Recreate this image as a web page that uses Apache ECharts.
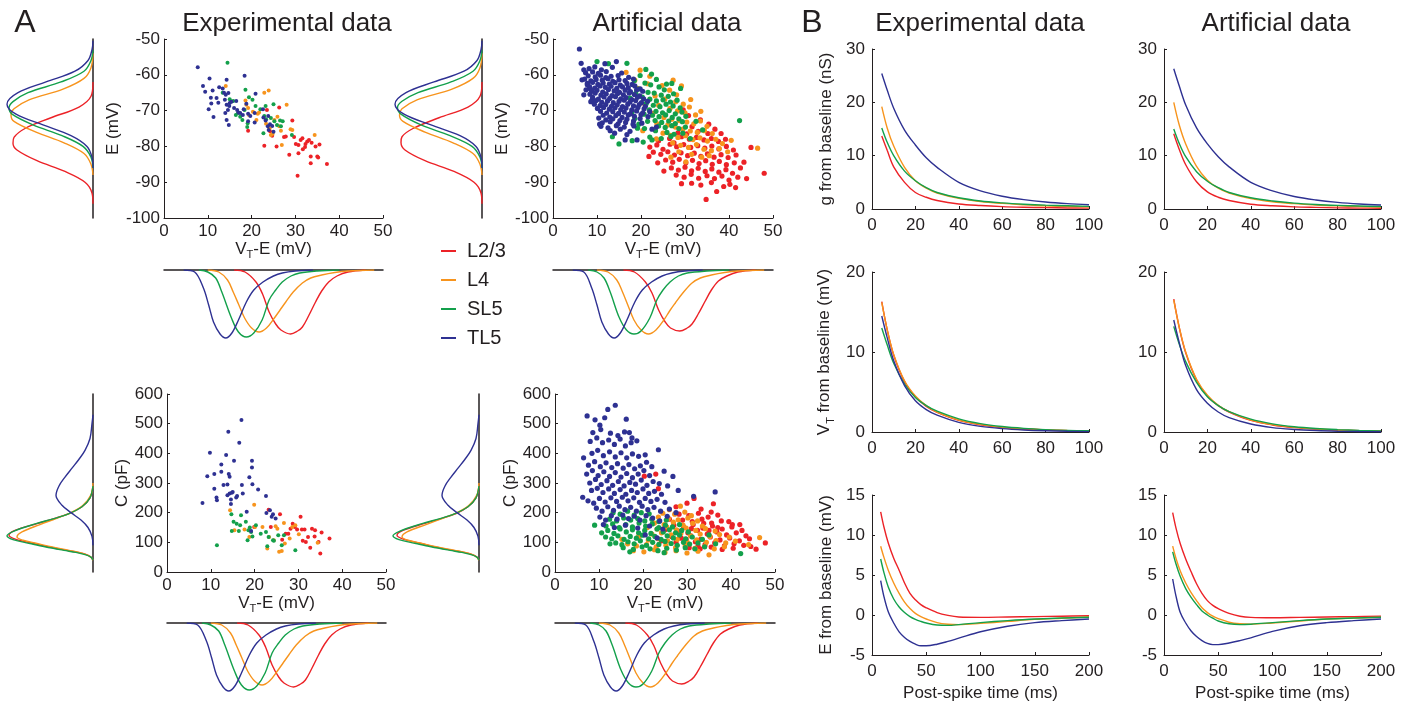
<!DOCTYPE html>
<html>
<head>
<meta charset="utf-8">
<script src="https://cdn.jsdelivr.net/npm/echarts@6/dist/echarts.min.js"></script>
<style>
  html, body { margin: 0; padding: 0; background: #fff; }
  #chart { width: 1408px; height: 708px; }
</style>
</head>
<body>
<div id="chart"></div>
<script>
// cell types, in drawing order (last one on top)
var layers = ['L2/3', 'L4', 'SL5', 'TL5'];
var layerColors = ['#ec2227', '#f7941d', '#13a04b', '#2e3192'];

// ---- A, scatter: [VT-E (mV), E (mV)], experimental ----
var expEPoints = [
  [[19.2,-75.6],[22.9,-79.8],[23.5,-69.8],[24.7,-77.0],[24.2,-75.8],[26.3,-69.1],[25.7,-80.0],[27.4,-77.4],[27.8,-77.2],[28.6,-82.3],[29.3,-72.8],[29.7,-77.4],[30.5,-88.2],[30.1,-79.3],[30.7,-79.6],[31.2,-78.2],[31.6,-77.7],[31.7,-80.8],[32.2,-80.2],[32.3,-79.3],[32.7,-78.6],[33.1,-78.2],[33.5,-82.8],[33.5,-84.7],[33.7,-79.0],[34.6,-80.0],[35.0,-82.8],[35.2,-83.1],[30.7,-81.9],[37.2,-84.9],[35.5,-79.5]],
  [[14.1,-63.1],[18.6,-67.2],[18.8,-68.4],[19.2,-69.3],[19.4,-71.2],[20.3,-70.3],[21.1,-72.6],[21.4,-70.9],[21.7,-70.5],[22.9,-65.0],[23.9,-64.4],[23.3,-73.7],[24.1,-74.9],[24.4,-76.8],[24.8,-76.5],[25.9,-71.7],[26.3,-74.4],[26.7,-75.6],[26.9,-79.6],[28.0,-68.4],[28.9,-75.2],[29.3,-75.4],[34.4,-76.8],[25.2,-72.6]],
  [[14.5,-56.6],[13.4,-65.0],[15.0,-66.8],[15.8,-67.3],[16.4,-71.2],[16.9,-70.7],[17.4,-71.7],[18.4,-69.8],[18.6,-64.2],[19.4,-66.3],[19.0,-74.6],[19.1,-73.5],[20.2,-67.0],[20.9,-68.7],[22.0,-69.6],[22.9,-71.5],[23.2,-68.7],[23.3,-72.4],[24.4,-72.1],[25.0,-68.2],[25.2,-73.0],[25.8,-74.0],[26.5,-72.8],[26.7,-74.4],[27.1,-73.0],[29.2,-76.8],[22.7,-76.3],[17.9,-72.6]],
  [[7.7,-57.9],[8.9,-63.1],[9.4,-64.7],[10.4,-61.0],[11.1,-64.4],[10.7,-66.4],[10.2,-69.6],[10.8,-68.0],[11.3,-71.8],[12.0,-66.5],[12.4,-67.8],[12.6,-63.5],[13.4,-63.8],[13.7,-65.0],[14.3,-61.4],[14.1,-65.6],[14.7,-65.1],[13.9,-67.0],[14.3,-68.4],[14.0,-70.7],[14.9,-68.7],[14.6,-69.8],[15.0,-67.9],[15.4,-67.5],[14.3,-72.6],[14.8,-74.0],[16.0,-69.3],[16.5,-67.3],[16.7,-69.8],[17.0,-70.5],[17.4,-70.7],[18.2,-69.6],[18.0,-71.2],[18.4,-60.3],[18.8,-68.1],[19.2,-70.9],[19.2,-73.0],[19.7,-71.5],[20.7,-73.3],[20.9,-65.3],[22.6,-69.6],[22.7,-71.9],[23.2,-72.8],[23.7,-74.4],[23.9,-75.4],[24.2,-73.8],[24.7,-74.3],[25.0,-75.9],[23.8,-71.5],[20.7,-70.7]]
];

// ---- A, scatter: [VT-E (mV), E (mV)], artificial ----
var artEPoints = [
  [[29.6,-69.8],[30.8,-71.4],[33.5,-72.6],[35.4,-73.8],[31.6,-74.5],[36.8,-75.2],[38.2,-76.4],[33.0,-75.8],[28.4,-76.2],
   [26.5,-77.8],[29.2,-77.3],[31.0,-78.0],[32.6,-77.5],[34.3,-78.2],[36.0,-77.8],[37.6,-78.6],[39.2,-78.0],
   [22.0,-80.2],[23.6,-79.6],[25.0,-80.8],[26.6,-79.4],[28.1,-80.1],[29.7,-79.5],[31.3,-80.3],[32.9,-79.8],[34.5,-80.5],[36.1,-79.9],[37.7,-80.7],[39.4,-80.0],[41.0,-81.0],
   [22.8,-81.6],[24.5,-82.2],[26.1,-81.5],[27.6,-82.4],[29.1,-81.8],[30.6,-82.6],[32.1,-81.9],[33.6,-82.8],[35.1,-82.1],[36.6,-83.0],[38.2,-82.3],[39.8,-83.1],[41.6,-82.4],
   [25.6,-83.8],[27.2,-84.4],[28.7,-83.6],[30.2,-84.6],[31.7,-83.9],[33.2,-84.8],[34.7,-84.0],[36.2,-85.0],[37.8,-84.2],[39.4,-85.1],[41.2,-84.6],
   [26.9,-86.0],[28.5,-86.6],[30.0,-85.8],[31.5,-86.8],[33.0,-86.1],[34.6,-87.0],[36.1,-86.3],[37.7,-87.2],[39.3,-86.5],[40.8,-87.5],
   [28.0,-88.0],[29.8,-88.6],[31.4,-87.8],[33.1,-88.9],[35.0,-88.2],[36.7,-89.0],[38.4,-88.3],[40.0,-89.4],
   [31.5,-90.3],[33.6,-90.8],[36.0,-90.1],[38.8,-91.2],[40.2,-90.6],[41.5,-91.5],[44.0,-89.0],[45.0,-80.3],[48.0,-87.5],[34.8,-94.8],[42.6,-86.0],[43.4,-84.4],
   [24.0,-78.4],[27.5,-79.0],[30.4,-76.5],[35.2,-76.4],[21.8,-82.8],[23.8,-84.6],[25.2,-86.9],[29.2,-90.4],[37.2,-92.6],[42.0,-88.6]],
  [[16.6,-59.3],[19.8,-58.7],[22.0,-60.4],[27.3,-61.5],[21.5,-62.5],[24.8,-63.0],[26.5,-64.3],[28.1,-65.6],[23.2,-65.9],
   [25.4,-66.8],[27.9,-67.5],[29.6,-68.2],[31.0,-69.0],[26.6,-69.4],[28.3,-70.1],[30.0,-70.6],[32.4,-71.2],[33.6,-70.2],
   [25.2,-71.9],[27.0,-72.4],[28.7,-72.8],[30.4,-73.2],[32.0,-73.7],[33.5,-72.9],[35.0,-74.4],[26.1,-74.0],[27.8,-74.6],[29.5,-75.2],[31.2,-75.7],[32.8,-76.1],[34.4,-75.6],[36.2,-76.4],
   [25.0,-76.3],[26.7,-76.9],[28.4,-77.5],[30.1,-77.0],[31.8,-78.1],[33.4,-77.6],[35.1,-78.5],[37.0,-78.0],[38.5,-79.2],
   [27.2,-79.0],[29.0,-79.7],[30.8,-80.3],[32.6,-79.5],[34.3,-80.8],[36.0,-81.2],[37.8,-80.6],[39.7,-81.5],
   [28.6,-81.5],[31.5,-82.2],[33.8,-83.0],[35.5,-82.6],[30.2,-84.3],[26.8,-83.0],
   [46.5,-80.5],[40.5,-78.3],[24.0,-68.5],[22.7,-70.8],[23.6,-73.6],[20.9,-68.3],[19.2,-63.8],[18.6,-61.5],[29.2,-63.1],[31.3,-66.9],[20.4,-75.6],[23.5,-77.9]],
  [[10.0,-56.3],[12.6,-56.9],[16.8,-56.8],[21.1,-58.5],[19.8,-60.2],[22.4,-59.8],[23.5,-61.3],[25.8,-62.6],[29.0,-63.8],[27.0,-62.4],
   [18.5,-61.6],[20.9,-62.3],[22.2,-62.8],[24.1,-63.4],[25.3,-64.2],[21.6,-64.9],[23.0,-65.1],[24.6,-65.7],[26.2,-66.0],[27.4,-65.3],
   [20.3,-66.2],[22.0,-66.8],[23.5,-67.3],[25.0,-67.0],[26.7,-67.6],[28.2,-67.1],[21.2,-68.0],[22.8,-68.5],[24.3,-68.9],[25.7,-68.2],[27.3,-68.7],[28.9,-69.2],
   [21.9,-69.8],[23.4,-70.2],[24.9,-70.6],[26.4,-70.0],[27.8,-70.9],[29.3,-70.4],[22.6,-71.3],[24.1,-71.7],[25.6,-71.2],[27.1,-71.9],[28.6,-72.3],[30.2,-71.6],
   [23.2,-72.8],[24.7,-73.3],[26.3,-72.9],[27.8,-73.6],[29.4,-73.1],[24.0,-74.3],[25.5,-74.7],[27.0,-74.2],[28.6,-75.0],[30.1,-74.6],
   [23.3,-75.6],[25.9,-76.1],[27.5,-76.6],[29.5,-76.3],[22.0,-77.4],[24.6,-77.8],[26.8,-77.2],[15.0,-79.3],[13.5,-77.3],[18.0,-78.4],[20.5,-78.8],[22.5,-78.2],
   [42.4,-72.8],[34.0,-75.4],[32.5,-73.0],[31.2,-77.8],
   [17.5,-66.5],[18.8,-65.2],[19.4,-64.0],[17.9,-70.5],[18.6,-72.2],[19.5,-73.8],[20.8,-75.0],[21.5,-73.0],[20.7,-71.0],[19.2,-74.9]],
  [[6.0,-52.8],[6.4,-56.8],[7.0,-58.6],[6.6,-61.4],[7.0,-65.6],[7.8,-62.8],[8.5,-64.0],[8.9,-67.0],
   [8.2,-58.3],[9.5,-57.8],[11.0,-58.6],[13.5,-57.9],[14.4,-56.3],
   [7.4,-59.4],[9.0,-59.2],[10.3,-59.6],[12.1,-59.1],[15.6,-59.5],
   [8.0,-60.3],[9.6,-60.6],[10.8,-60.1],[12.0,-60.8],[13.2,-60.4],[14.8,-60.2],[17.2,-60.7],
   [7.2,-61.2],[8.6,-61.7],[9.8,-61.3],[11.2,-61.5],[12.5,-61.1],[13.6,-61.8],[15.0,-61.4],[16.4,-61.6],[18.3,-61.2],
   [7.8,-62.4],[9.0,-62.1],[10.2,-62.7],[11.4,-62.3],[12.8,-62.6],[14.1,-62.2],[15.3,-62.9],[16.8,-62.4],[18.0,-62.7],
   [8.3,-63.3],[9.5,-63.7],[10.7,-63.1],[11.9,-63.5],[13.2,-63.2],[14.5,-63.8],[15.8,-63.4],[17.1,-63.6],[18.6,-63.1],[19.8,-63.9],
   [7.5,-64.2],[8.8,-64.6],[10.0,-64.3],[11.3,-64.8],[12.6,-64.1],[13.9,-64.5],[15.1,-64.9],[16.4,-64.3],[17.6,-64.7],[19.0,-64.2],[20.4,-64.6],
   [8.4,-65.4],[9.6,-65.1],[10.9,-65.7],[12.1,-65.3],[13.4,-65.8],[14.7,-65.2],[16.0,-65.6],[17.3,-65.1],[18.5,-65.5],[19.7,-65.9],
   [9.0,-66.3],[10.3,-66.8],[11.6,-66.2],[12.9,-66.6],[14.2,-66.1],[15.4,-66.7],[16.6,-66.4],[17.9,-66.9],[19.2,-66.3],[20.6,-66.7],
   [8.6,-67.5],[9.8,-67.2],[11.1,-67.7],[12.4,-67.3],[13.7,-67.8],[15.0,-67.4],[16.2,-67.1],[17.5,-67.6],[18.8,-67.2],[20.1,-67.8],[21.5,-67.4],
   [9.4,-68.2],[10.7,-68.6],[12.0,-68.3],[13.3,-68.8],[14.6,-68.4],[15.8,-68.9],[17.0,-68.2],[18.3,-68.7],[19.6,-68.3],[21.0,-68.8],
   [10.1,-69.4],[11.5,-69.1],[12.8,-69.6],[14.1,-69.2],[15.4,-69.7],[16.6,-69.3],[17.9,-69.8],[19.3,-69.1],[20.7,-69.5],
   [10.8,-70.2],[12.2,-70.7],[13.6,-70.3],[14.9,-70.8],[16.2,-70.4],[17.6,-70.9],[19.0,-70.1],[20.4,-70.6],[22.0,-70.3],
   [11.4,-71.3],[12.9,-71.8],[14.3,-71.4],[15.7,-71.9],[17.1,-71.2],[18.5,-71.6],[20.0,-71.1],[21.6,-71.7],
   [10.4,-72.1],[12.0,-72.6],[13.6,-72.3],[15.2,-72.8],[16.8,-72.4],[18.3,-72.9],[19.8,-72.2],
   [11.2,-73.4],[13.0,-73.1],[14.8,-73.7],[16.5,-73.3],[18.2,-73.8],[20.2,-73.5],
   [10.9,-74.4],[12.5,-74.8],[14.4,-74.2],[16.2,-74.6],[18.4,-74.3],
   [13.0,-75.6],[15.3,-75.2],[17.5,-75.8],[14.0,-76.3],[16.8,-76.7],[16.4,-78.2],[19.1,-78.2],[22.5,-75.2],[23.5,-74.6],[11.8,-56.9],[10.6,-73.8]]
];

// ---- A, scatter: [VT-E (mV), C (pF)], experimental ----
var expCPoints = [
  [[19.9,152],[23.2,210],[23.7,152],[25.8,195],[26.3,109],[27.1,129],[27.7,129],[28.2,146],[28.7,163],[29.2,152],[29.7,143],[30.5,186],[30.8,143],[31.0,105],[31.4,143],[31.7,101],[32.2,118],[32.7,82],[33.1,146],[33.7,120],[33.8,141],[35.0,62],[35.3,133],[37.1,113],[34.6,101]],
  [[14.4,208],[15.4,141],[17.7,143],[18.8,118],[19.9,227],[20.1,152],[21.8,152],[22.9,79],[23.3,118],[24.4,107],[24.8,154],[25.2,146],[25.6,68],[26.2,71],[26.7,165],[26.9,96],[28.0,113],[28.6,152],[30.1,127],[34.4,99],[29.3,158]],
  [[11.4,90],[14.7,195],[14.8,138],[15.2,169],[15.9,163],[16.4,138],[16.7,158],[16.9,191],[18.0,169],[18.4,107],[18.6,141],[18.9,150],[19.2,135],[19.5,120],[21.4,129],[22.6,135],[22.9,87],[23.2,118],[24.2,107],[24.4,105],[25.4,124],[26.2,90],[26.7,124],[29.3,73],[20.3,158]],
  [[8.1,233],[9.2,323],[9.8,402],[10.8,330],[10.8,281],[11.3,251],[11.4,242],[12.4,362],[12.4,338],[12.9,293],[13.5,394],[13.8,295],[14.0,473],[14.1,330],[14.3,321],[13.8,259],[14.3,265],[14.6,244],[14.6,229],[14.8,267],[15.0,270],[15.3,375],[15.8,251],[16.0,256],[16.5,436],[17.0,512],[17.1,293],[17.3,265],[18.2,203],[18.8,319],[19.4,375],[19.4,352],[19.5,296],[20.8,278],[19.2,138],[22.6,256],[22.7,199],[23.5,208],[23.9,186],[24.2,195],[24.8,180]]
];

// ---- A, scatter: [VT-E (mV), C (pF)], artificial ----
var artCPoints = [
  [[20.3,323],[22.9,330],[23.5,281],[31.6,248],[27.5,220],[30.0,232],[33.2,212],[35.5,202],
   [28.2,195],[30.4,190],[32.6,198],[34.8,185],[37.0,192],[29.0,175],[31.2,170],[33.4,178],[35.6,165],[37.8,172],[40.3,160],
   [27.0,158],[29.2,152],[31.4,160],[33.6,148],[35.8,155],[38.0,145],[40.2,152],[42.5,140],
   [28.0,138],[30.2,132],[32.4,140],[34.6,128],[36.8,135],[39.0,125],[41.2,132],[43.4,122],
   [26.5,120],[28.7,114],[30.9,122],[33.1,110],[35.3,118],[37.5,108],[39.7,115],[41.9,105],[44.2,112],
   [27.5,100],[29.7,95],[31.9,102],[34.1,92],[36.3,98],[38.5,88],[40.7,95],[42.9,90],
   [30.5,82],[33.0,78],[35.5,84],[38.0,76],[40.5,80],[45.7,77],[47.8,98],[44.5,86],
   [25.0,142],[26.0,178],[36.0,230],[24.2,105],[29.8,110],[32.5,88],[37.0,150],[39.5,170],[42.0,160],[35.0,140],[31.0,146],[33.8,164]],
  [[28.5,222],[26.0,210],[24.5,198],[27.2,195],[29.5,202],[31.0,190],[23.5,185],[25.8,180],[28.0,176],[30.2,182],[32.4,172],
   [22.6,165],[24.8,160],[26.9,168],[29.1,158],[31.3,164],[33.5,155],[21.0,150],[23.2,145],[25.4,152],[27.6,142],[29.8,148],[32.0,140],[34.2,146],[36.4,138],
   [22.0,128],[24.2,132],[26.4,125],[28.6,130],[30.8,122],[33.0,128],[35.2,120],[37.4,126],[39.6,118],
   [21.2,108],[23.4,112],[25.6,105],[27.8,110],[30.0,102],[32.2,108],[34.4,100],[36.6,106],[38.8,98],[41.0,104],
   [18.5,88],[20.8,92],[23.0,85],[25.2,90],[27.4,82],[29.6,88],[31.8,80],[34.0,86],[36.2,78],[38.5,85],
   [17.8,72],[20.2,68],[22.6,75],[25.0,66],[27.5,72],[30.0,64],[32.5,70],[35.0,58],[46.5,116],[44.0,92],[16.5,95],[19.0,120],[15.2,110]],
  [[13.2,200],[14.8,195],[16.5,205],[18.0,192],[19.6,200],[21.4,196],
   [12.4,178],[14.0,172],[15.6,182],[17.2,175],[18.8,180],[20.4,172],[22.0,178],[23.6,170],[25.3,175],
   [9.0,158],[11.6,155],[13.1,162],[14.6,150],[16.1,160],[17.6,152],[19.1,165],[20.6,155],[22.1,162],[23.6,150],[25.1,158],[26.7,152],[28.3,160],
   [10.6,132],[12.0,140],[13.4,130],[14.8,145],[16.2,135],[17.6,142],[19.0,132],[20.4,140],[21.8,130],[23.2,145],[24.6,135],[26.0,142],[27.4,132],[28.8,140],[30.3,135],
   [11.5,118],[12.9,112],[14.3,122],[15.7,110],[17.1,120],[18.5,114],[19.9,124],[21.3,112],[22.7,120],[24.1,110],[25.5,122],[26.9,115],[28.3,125],[29.7,112],[31.2,118],
   [13.8,98],[15.2,92],[16.6,102],[18.0,95],[19.4,105],[20.8,90],[22.2,100],[23.6,93],[25.0,103],[26.4,96],[27.8,90],[29.2,100],[30.6,94],[32.5,98],
   [15.5,82],[17.8,76],[19.8,85],[21.6,78],[23.4,72],[25.4,80],[27.6,74],[29.6,82],[31.8,78],[34.0,85],[42.2,62],
   [12.5,95],[17.0,68],[24.8,65],[36.5,95],[33.5,110],[35.0,125]],
  [[12.0,548],[13.7,562],[7.3,526],[9.1,513],[10.2,495],[16.2,515],[11.3,520],
   [8.6,470],[10.4,480],[12.6,468],[14.3,460],[15.8,472],[16.9,470],[17.5,452],
   [8.0,440],[9.5,452],[10.8,436],[12.2,445],[13.5,430],[14.8,448],[16.0,425],[17.3,436],[18.6,442],
   [6.5,385],[8.4,400],[9.7,410],[11.0,392],[12.4,405],[13.7,388],[15.0,402],[16.3,385],[17.6,398],[19.0,390],[20.5,395],[23.5,412],
   [7.6,360],[9.0,372],[10.3,355],[11.6,368],[12.9,352],[14.2,365],[15.5,350],[16.8,362],[18.1,348],[19.4,358],[20.8,370],[22.0,355],
   [7.2,330],[8.5,342],[9.8,325],[11.1,338],[12.4,322],[13.7,335],[15.0,320],[16.3,332],[17.6,318],[18.9,330],[20.2,342],[21.5,325],[24.8,340],[26.8,322],
   [7.9,300],[9.2,312],[10.5,295],[11.8,308],[13.1,292],[14.4,305],[15.7,290],[17.0,302],[18.3,296],[19.6,310],[20.9,292],[22.3,305],[23.7,298],[25.6,290],
   [6.3,252],[8.3,275],[9.6,282],[10.9,268],[12.2,280],[13.5,265],[14.8,278],[16.1,262],[17.4,275],[18.7,268],[20.0,280],[21.3,265],[22.6,272],[24.2,262],[28.0,275],[36.4,270],
   [7.5,240],[8.8,232],[10.1,248],[11.4,236],[12.7,250],[14.0,238],[15.3,252],[16.6,240],[17.9,250],[19.2,235],[20.5,248],[21.8,238],[23.2,245],[25.0,235],[31.5,255],
   [9.4,215],[10.7,205],[12.0,220],[13.3,208],[14.6,222],[15.9,210],[17.2,218],[18.5,205],[19.8,222],[21.1,210],[22.5,218],[24.0,205],[26.0,212],[27.5,200],
   [10.2,185],[11.5,175],[12.8,190],[14.1,178],[15.4,192],[16.7,180],[18.0,188],[19.3,175],[20.7,190],[22.2,182],[23.8,172],[25.5,188],
   [11.0,160],[13.5,150],[16.0,158],[18.8,148],[21.5,155],[24.5,145],[20.5,125],[23.2,115]]
];

// ---- A, marginal densities [value, depth in px from the black line] ----
var vtMargExp = [
  [[16,0],[18.5,2],[21,12],[22.5,24],[24,42],[25.5,54],[26.7,60],[28.9,64],[30.5,61],[31.6,57],[33,46],[34.6,32],[36,21],[37.6,12],[39.5,6],[42,2],[46,0]],
  [[10,0],[12.5,2],[14.5,10],[15.8,22],[17,34],[18.4,48],[20,58],[21.7,62],[23.4,58],[25.2,48],[26.5,40],[27.8,32],[29.5,22],[31.6,13],[33.5,8],[36,5],[39,2.5],[42,1],[48,0]],
  [[8,0],[10,2],[11.8,8],[13.2,22],[15.4,48],[17,62],[18.8,67],[20.5,63],[22.4,50],[24,30],[25.5,20],[27,12],[29,6],[31,3],[35,1],[40,0]],
  [[4.5,0],[7,2],[9,18],[10.2,35],[11.3,52],[12.8,64],[14.1,68],[15.5,63],[17,50],[18.8,32],[20.5,20],[22.6,12],[25,6],[27,3],[30,1],[34,0]]
];
var vtMargArt = [
  [[16,0],[18.5,2],[21,12],[22.5,23],[24,40],[25.5,52],[26.7,58],[28.8,61],[30.5,58],[31.6,54],[33,44],[34.6,31],[36,20],[37.6,11],[39.5,6],[42,2],[46,0]],
  [[10,0],[12.5,2],[14.5,10],[15.8,22],[17,35],[18.4,50],[20,60],[21.7,64],[23.4,60],[25.2,50],[26.5,41],[27.8,33],[29.5,23],[31.6,13],[33.5,8],[36,5],[39,2.5],[42,1],[48,0]],
  [[8,0],[10,2],[11.6,8],[13,22],[15,47],[16.7,60],[18.4,64],[20,61],[22,48],[23.6,30],[25,20],[26.6,12],[28.5,6],[30.5,3],[35,1],[40,0]],
  [[4.5,0],[7,2],[8.8,18],[10,35],[11.1,52],[12.6,64],[13.9,68],[15.3,63],[16.8,50],[18.6,32],[20.3,20],[22.4,12],[24.8,6],[27,3],[30,1],[34,0]]
];
var eMargExp = [
  [[-62,0],[-66,2],[-69,14],[-72,42],[-75,68],[-77.5,79],[-79.1,80],[-81,76],[-84,56],[-87,28],[-90,8],[-93,1],[-96,0]],
  [[-54,0],[-58,2],[-61,9],[-64,30],[-67,64],[-69.5,79],[-71.2,82],[-73,79],[-76,57],[-79,29],[-82,9],[-85,2],[-88,0]],
  [[-53,0],[-56,2],[-59,9],[-62,32],[-65,65],[-67.5,80],[-69.3,84],[-71,81],[-74,60],[-77,31],[-80,10],[-83,2],[-86,0]],
  [[-50.5,0],[-53,1],[-56,5],[-59,18],[-62,47],[-65,75],[-68.2,86],[-71,77],[-74,50],[-77,22],[-80,6],[-83,1],[-86,0]]
];
var eMargArt = [
  [[-62,0],[-66,2],[-69,14],[-72,43],[-75,69],[-77.3,80],[-78.9,81],[-81,77],[-84,57],[-87,28],[-90,8],[-93,1],[-96,0]],
  [[-54,0],[-58,2],[-61,9],[-64,30],[-67,65],[-69.5,80],[-71.2,82.5],[-73,79],[-76,57],[-79,29],[-82,9],[-85,2],[-88,0]],
  [[-53,0],[-56,2],[-59,9],[-62,31],[-65,64],[-67.4,80],[-69.1,84.5],[-71,81],[-74,61],[-77,32],[-80,10],[-83,2],[-86,0]],
  [[-50.5,0],[-53,1],[-56,5],[-59,18],[-62,48],[-65,76],[-68.2,87],[-71,78],[-74,51],[-77,22],[-80,6],[-83,1],[-86,0]]
];
var cMargExp = [
  [[40,0],[50,2],[58,6],[66,15],[73,26],[85,45],[96,59],[110,77],[124,84],[140,78],[163,56],[180,39],[197,24],[220,11],[250,3],[290,0]],
  [[40,0],[50,2],[58,6],[66,14],[73,24],[85,42],[96,56],[107,70],[118,76],[135,71],[160,53],[180,37],[200,22],[225,10],[260,2],[300,0]],
  [[40,0],[50,2],[58,7],[66,17],[73,29],[85,48],[96,63],[109,80],[122,86],[138,79],[163,57],[180,39],[197,24],[220,11],[250,3],[290,0]],
  [[90,0],[120,1],[150,5],[175,12],[200,22],[225,31],[259,37],[290,34],[320,28],[350,21],[380,14],[410,8],[450,3],[500,1],[530,0]]
];
var cMargArt = [
  [[40,0],[50,2],[58,6],[66,15],[73,26],[85,45],[96,58],[110,75],[124,82],[140,76],[163,55],[180,38],[197,23],[220,11],[250,3],[290,0]],
  [[40,0],[50,2],[58,6],[66,14],[73,24],[85,43],[96,57],[107,71],[118,77],[135,72],[160,53],[180,37],[200,22],[225,10],[260,2],[300,0]],
  [[40,0],[50,2],[58,7],[66,17],[73,29],[85,48],[96,63],[109,80],[122,86],[138,79],[163,57],[180,39],[197,24],[220,11],[250,3],[290,0]],
  [[90,0],[120,1],[150,5],[175,12],[200,22],[225,31],[259,37],[290,34],[320,28],[350,21],[380,14],[410,8],[450,3],[500,1],[530,0]]
];

// ---- B, post-spike kernels ----
var gTimes = [4.5, 7, 10, 15, 20, 25, 30, 40, 50, 60, 70, 80, 90, 100];
var gExp = [
  [13.7, 11.0, 7.9, 5.0, 3.1, 2.2, 1.6, 0.95, 0.65, 0.45, 0.33, 0.25, 0.2, 0.17],
  [19.2, 15.2, 11.8, 7.8, 5.3, 3.9, 3.0, 2.0, 1.4, 1.05, 0.8, 0.6, 0.48, 0.4],
  [15.2, 12.5, 10.0, 7.1, 5.3, 4.0, 3.1, 2.1, 1.5, 1.15, 0.9, 0.72, 0.6, 0.5],
  [25.4, 22.3, 18.9, 14.8, 12.0, 9.6, 7.8, 5.0, 3.4, 2.4, 1.75, 1.3, 1.0, 0.8]
];
var gArt = [
  [14.1, 11.2, 8.3, 5.1, 3.2, 2.2, 1.6, 0.9, 0.6, 0.4, 0.3, 0.22, 0.17, 0.14],
  [20.0, 15.8, 12.2, 8.0, 5.4, 3.9, 3.0, 1.95, 1.35, 1.0, 0.75, 0.58, 0.45, 0.36],
  [15.0, 12.3, 9.8, 7.0, 5.2, 4.0, 3.1, 2.1, 1.5, 1.1, 0.85, 0.68, 0.56, 0.46],
  [26.3, 23.1, 19.5, 15.2, 12.2, 9.8, 7.9, 5.0, 3.4, 2.35, 1.7, 1.25, 0.95, 0.75]
];
var vtTimes = [4.5, 7, 10, 15, 20, 25, 30, 40, 50, 60, 70, 80, 90, 100];
var vtExp = [
  [16.3, 12.8, 9.6, 6.3, 4.4, 3.2, 2.45, 1.45, 0.9, 0.55, 0.38, 0.25, 0.17, 0.12],
  [16.2, 12.8, 9.7, 6.4, 4.5, 3.3, 2.5, 1.5, 0.95, 0.6, 0.4, 0.27, 0.18, 0.13],
  [13.0, 10.9, 8.6, 6.0, 4.3, 3.3, 2.6, 1.65, 1.05, 0.68, 0.45, 0.3, 0.2, 0.15],
  [14.5, 11.8, 8.9, 5.8, 3.9, 2.8, 2.1, 1.2, 0.7, 0.42, 0.25, 0.15, 0.09, 0.05]
];
var vtArt = [
  [16.6, 13.1, 9.9, 6.5, 4.5, 3.3, 2.5, 1.45, 0.88, 0.55, 0.36, 0.24, 0.16, 0.1],
  [16.5, 13.1, 10.0, 6.6, 4.6, 3.35, 2.55, 1.5, 0.92, 0.58, 0.38, 0.25, 0.17, 0.12],
  [13.2, 11.0, 8.8, 6.2, 4.4, 3.3, 2.55, 1.6, 1.02, 0.66, 0.44, 0.3, 0.2, 0.14],
  [14.0, 11.2, 8.3, 5.3, 3.6, 2.5, 1.8, 1.0, 0.55, 0.32, 0.18, 0.1, 0.06, 0.03]
];
var eTimes = [8, 11, 15, 20, 25, 30, 35, 40, 45, 50, 60, 70, 80, 100, 125, 150, 175, 200];
var eExp = [
  [12.9, 11.0, 9.0, 7.1, 5.6, 4.0, 2.7, 1.9, 1.3, 0.9, 0.3, -0.05, -0.25, -0.3, -0.25, -0.2, -0.15, -0.1],
  [8.6, 7.2, 5.6, 4.0, 2.7, 1.6, 0.8, 0.2, -0.2, -0.5, -0.95, -1.15, -1.2, -1.05, -0.8, -0.55, -0.4, -0.25],
  [7.0, 5.3, 3.5, 2.0, 1.0, 0.3, -0.2, -0.55, -0.8, -1.0, -1.25, -1.3, -1.2, -0.95, -0.7, -0.5, -0.38, -0.28],
  [4.3, 2.3, 0.4, -1.0, -2.1, -2.8, -3.3, -3.65, -3.85, -3.85, -3.65, -3.3, -2.9, -2.1, -1.4, -0.95, -0.7, -0.5]
];
var eArt = [
  [12.8, 10.9, 8.9, 7.0, 5.4, 3.9, 2.7, 1.8, 1.2, 0.8, 0.2, -0.15, -0.3, -0.35, -0.3, -0.25, -0.2, -0.15],
  [8.6, 7.1, 5.5, 4.0, 2.8, 1.8, 0.9, 0.3, -0.15, -0.45, -0.9, -1.1, -1.15, -1.0, -0.75, -0.5, -0.38, -0.28],
  [7.9, 6.4, 4.8, 3.3, 2.2, 1.3, 0.5, 0.0, -0.4, -0.75, -1.1, -1.2, -1.15, -0.95, -0.7, -0.5, -0.38, -0.28],
  [4.5, 2.4, 0.3, -1.0, -2.0, -2.7, -3.2, -3.55, -3.7, -3.7, -3.5, -3.2, -2.85, -2.05, -1.35, -0.95, -0.7, -0.5]
];

var FONT = '"Liberation Sans", Arial, Helvetica, sans-serif';
var INK = '#231f20';

var subRich = {
  n: { fontSize: 17, fontFamily: FONT, color: INK, lineHeight: 19, verticalAlign: 'top' },
  s: { fontSize: 11, fontFamily: FONT, color: INK, lineHeight: 12, verticalAlign: 'top', padding: [9, 0, 0, 0] }
};

var grids = [], xAxes = [], yAxes = [], series = [];

function addGrid(box) { grids.push(box); return grids.length - 1; }

function plainAxis(gi, range, extra) {
  var a = {
    gridIndex: gi, type: 'value', min: range[0], max: range[1], interval: range[2],
    axisLine: { show: true, onZero: false, lineStyle: { color: INK, width: 1 } },
    axisTick: { show: true, inside: true, length: 3, lineStyle: { color: INK } },
    axisLabel: { show: true, color: INK, fontSize: 17, fontFamily: FONT },
    splitLine: { show: false }
  };
  for (var k in extra) a[k] = extra[k];
  return a;
}

function scatterPanel(box, sets, yRange, yName, yGap, size) {
  var gi = addGrid(box);
  xAxes.push(plainAxis(gi, [0, 50, 10], {
    axisLabel: { color: INK, fontSize: 17, fontFamily: FONT, margin: 5 },
    name: '{n|V}{s|T}{n|-E (mV)}', nameLocation: 'middle', nameGap: 19,
    nameTextStyle: { rich: subRich }
  }));
  yAxes.push(plainAxis(gi, yRange, {
    axisLabel: { color: INK, fontSize: 17, fontFamily: FONT, margin: 4 },
    name: yName, nameLocation: 'middle', nameGap: yGap,
    nameTextStyle: { color: INK, fontSize: 17, fontFamily: FONT }
  }));
  sets.forEach(function (pts, i) {
    series.push({
      type: 'scatter', name: layers[i], xAxisIndex: gi, yAxisIndex: gi,
      data: pts, symbolSize: size, silent: true,
      itemStyle: { color: layerColors[i], opacity: 1 }
    });
  });
}

function hiddenAxis(gi, range, inverse) {
  return { gridIndex: gi, type: 'value', min: range[0], max: range[1], inverse: inverse, show: false };
}

function blackLineAxis(gi, range, pos) {
  return {
    gridIndex: gi, type: 'value', min: range[0], max: range[1], position: pos,
    axisLine: { show: true, onZero: false, lineStyle: { color: INK, width: 1.5 } },
    axisTick: { show: false }, axisLabel: { show: false }, splitLine: { show: false }
  };
}

function curve(gi, data, i) {
  series.push({
    type: 'line', name: layers[i], xAxisIndex: gi, yAxisIndex: gi, data: data,
    smooth: 0.35, showSymbol: false, silent: true,
    lineStyle: { color: layerColors[i], width: 1.4 }, itemStyle: { color: layerColors[i] }
  });
}

// marginal on the left of a scatter (density grows to the left)
function sideMarginal(box, sets, yRange) {
  var gi = addGrid(box);
  xAxes.push(hiddenAxis(gi, [0, 88], true));
  yAxes.push(blackLineAxis(gi, yRange, 'right'));
  sets.forEach(function (pts, i) {
    curve(gi, pts.map(function (p) { return [p[1], p[0]]; }), i);
  });
}

// marginal under a scatter (density grows downwards)
function lowMarginal(box, sets) {
  var gi = addGrid(box);
  xAxes.push(blackLineAxis(gi, [0, 50], 'top'));
  yAxes.push(hiddenAxis(gi, [0, 70], true));
  sets.forEach(function (pts, i) { curve(gi, pts, i); });
}

function kernelPanel(box, times, sets, xRange, yRange, yName, xName) {
  var gi = addGrid(box);
  var xa = plainAxis(gi, xRange, { axisLabel: { color: INK, fontSize: 17, fontFamily: FONT, margin: 8 } });
  if (xName) {
    xa.name = xName; xa.nameLocation = 'middle'; xa.nameGap = 30;
    xa.nameTextStyle = { color: INK, fontSize: 17, fontFamily: FONT };
  }
  xAxes.push(xa);
  var ya = plainAxis(gi, yRange, { axisLabel: { color: INK, fontSize: 17, fontFamily: FONT, margin: 7 } });
  if (yName) {
    ya.name = yName; ya.nameLocation = 'middle'; ya.nameGap = 37;
    ya.nameTextStyle = { color: INK, fontSize: 17, fontFamily: FONT, rich: subRich };
  }
  yAxes.push(ya);
  sets.forEach(function (vals, i) {
    curve(gi, times.map(function (t, k) { return [t, vals[k]]; }), i);
  });
}

// ---- panel A ----
scatterPanel({ left: 164, top: 39, width: 219, height: 179 }, expEPoints, [-100, -50, 10], 'E (mV)', 37, 4);
scatterPanel({ left: 553, top: 39, width: 220, height: 179 }, artEPoints, [-100, -50, 10], 'E (mV)', 37, 5.2);
scatterPanel({ left: 167, top: 394, width: 219, height: 178 }, expCPoints, [0, 600, 100], 'C (pF)', 34, 4);
scatterPanel({ left: 555, top: 394, width: 220, height: 178 }, artCPoints, [0, 600, 100], 'C (pF)', 34, 5.2);

sideMarginal({ left: 5, top: 39, width: 88, height: 179 }, eMargExp, [-100, -50]);
sideMarginal({ left: 394, top: 39, width: 88, height: 179 }, eMargArt, [-100, -50]);
sideMarginal({ left: 5, top: 394, width: 88, height: 178 }, cMargExp, [0, 600]);
sideMarginal({ left: 391, top: 394, width: 88, height: 178 }, cMargArt, [0, 600]);

lowMarginal({ left: 164, top: 270, width: 219, height: 70 }, vtMargExp);
lowMarginal({ left: 553, top: 270, width: 220, height: 70 }, vtMargArt);
lowMarginal({ left: 167, top: 623, width: 219, height: 70 }, vtMargExp);
lowMarginal({ left: 555, top: 623, width: 220, height: 70 }, vtMargArt);

// ---- panel B ----
kernelPanel({ left: 872, top: 49, width: 217, height: 160 }, gTimes, gExp, [0, 100, 20], [0, 30, 10], 'g from baseline (nS)');
kernelPanel({ left: 1164, top: 49, width: 217, height: 160 }, gTimes, gArt, [0, 100, 20], [0, 30, 10]);
kernelPanel({ left: 872, top: 272, width: 217, height: 160 }, vtTimes, vtExp, [0, 100, 20], [0, 20, 10], '{n|V}{s|T}{n| from baseline (mV)}');
kernelPanel({ left: 1164, top: 272, width: 217, height: 160 }, vtTimes, vtArt, [0, 100, 20], [0, 20, 10]);
kernelPanel({ left: 872, top: 495, width: 217, height: 160 }, eTimes, eExp, [0, 200, 50], [-5, 15, 5], 'E from baseline (mV)', 'Post-spike time (ms)');
kernelPanel({ left: 1164, top: 495, width: 217, height: 160 }, eTimes, eArt, [0, 200, 50], [-5, 15, 5], null, 'Post-spike time (ms)');

function label(text, x, y, size) {
  return {
    type: 'text', x: x, y: y, silent: true,
    style: { text: text, fill: INK, fontSize: size, fontFamily: FONT, align: 'center', verticalAlign: 'middle' }
  };
}

var chart = echarts.init(document.getElementById('chart'), null, { renderer: 'canvas' });
chart.setOption({
  animation: false,
  backgroundColor: '#ffffff',
  grid: grids,
  xAxis: xAxes,
  yAxis: yAxes,
  series: series,
  legend: {
    data: layers, orient: 'vertical', left: 436, top: 236,
    icon: 'rect', itemWidth: 15, itemHeight: 2, itemGap: 9, selectedMode: false,
    textStyle: { color: INK, fontSize: 20, fontFamily: FONT, padding: [0, 0, 0, 6] }
  },
  graphic: [
    label('A', 25, 23, 32),
    label('B', 812, 23, 32),
    label('Experimental data', 287, 24, 26),
    label('Artificial data', 667, 24, 26),
    label('Experimental data', 980, 24, 26),
    label('Artificial data', 1276, 24, 26)
  ]
});
</script>
</body>
</html>
